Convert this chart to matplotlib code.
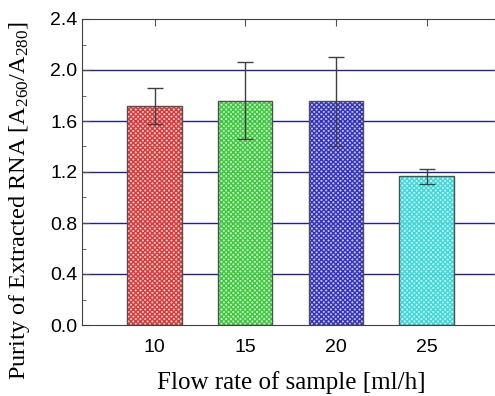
import matplotlib
matplotlib.use('Agg')
import matplotlib.pyplot as plt
from matplotlib.ticker import MultipleLocator

# data
flow = [10, 15, 20, 25]
purity = [1.72, 1.76, 1.755, 1.165]
err = [0.14, 0.30, 0.35, 0.06]
colors = ['#d42020', '#22c422', '#1a1ab8', '#22d4d4']
faces = ['#f2c0c0', '#c4f0c4', '#b8b8e8', '#c4f4f4']

plt.rcParams['hatch.linewidth'] = 1.0
plt.rcParams['mathtext.fontset'] = 'custom'
plt.rcParams['mathtext.rm'] = 'Liberation Serif'
plt.rcParams['mathtext.it'] = 'Liberation Serif:italic'

fig = plt.figure(figsize=(4.95, 3.96), dpi=100)
ax = fig.add_axes([82 / 495, 71 / 396, (500 - 82) / 495, (325 - 19) / 396])

for y in [0.4, 0.8, 1.2, 1.6, 2.0]:
    ax.axhline(y, color='#202090', lw=1.0, zorder=1)

for x, v, c, f in zip(flow, purity, colors, faces):
    ax.bar(x, v, width=3, color=f, edgecolor=c, hatch='xxxxxxx', lw=0, zorder=2, alpha=0.85)
    ax.bar(x, v, width=3, fill=False, edgecolor='#505050', lw=1.0, zorder=3)

ax.errorbar(flow, purity, yerr=err, fmt='none', ecolor='#404040', elinewidth=1.0,
            capsize=6, capthick=1.0, zorder=4)

ax.set_xlim(6, 29.05)
ax.set_ylim(0, 2.4)
ax.set_xticks(flow)
ax.yaxis.set_major_locator(MultipleLocator(0.4))
ax.yaxis.set_minor_locator(MultipleLocator(0.2))
ax.tick_params(axis='both', which='both', direction='in', top=True, right=True,
               labelsize=14, color='#505050')
ax.tick_params(which='major', length=5)
ax.tick_params(which='minor', length=3)
ax.tick_params(axis='x', pad=10)
for lab in ax.get_xticklabels() + ax.get_yticklabels():
    lab.set_family('Liberation Sans')
ax.set_yticklabels(['%.1f' % t for t in ax.get_yticks()])
for s in ax.spines.values():
    s.set_color('#404040')

ax.set_xlabel('Flow rate of sample [ml/h]', family='Liberation Serif', fontsize=18, labelpad=11)
ax.set_ylabel('Purity of Extracted RNA [A$_{260}$/A$_{280}$]', family='Liberation Serif',
              fontsize=17.5)
ax.yaxis.set_label_coords(-0.12, 0.405)

fig.savefig('out.png', dpi=100)
